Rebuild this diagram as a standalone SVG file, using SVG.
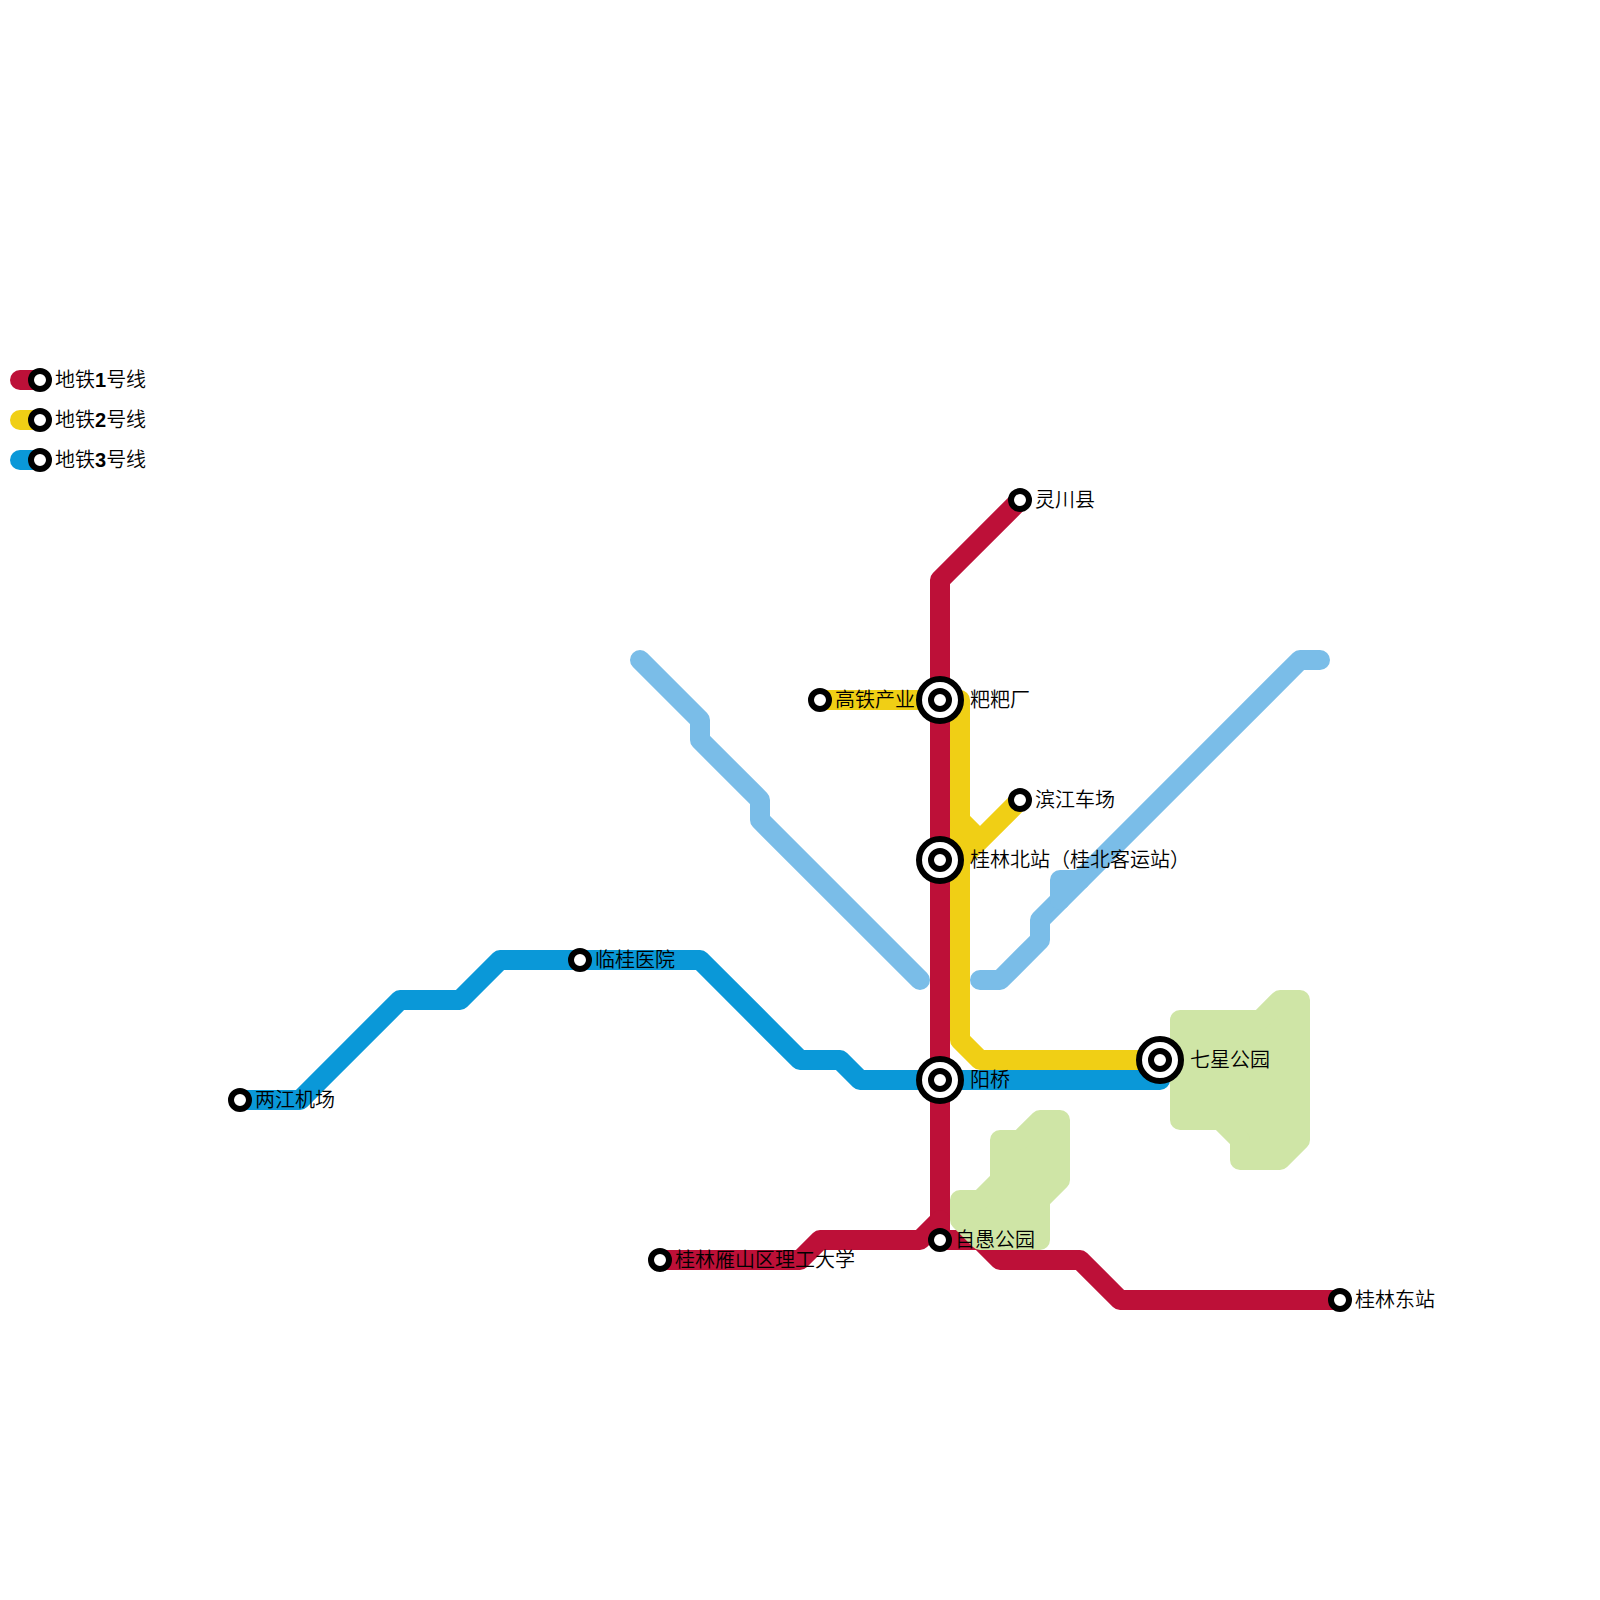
<svg xmlns="http://www.w3.org/2000/svg" width="1600" height="1600" viewBox="0 0 1600 1600">
<style>
text{font-family:"Liberation Sans","Noto Sans CJK SC",sans-serif;font-size:20px;fill:#000;font-weight:350}
.l{fill:none;stroke-width:20;stroke-linecap:round;stroke-linejoin:round}
.r{stroke:#BD1038}.y{stroke:#F0CF15}.b{stroke:#0A98D8}.c{stroke:#7ABDE8}
.p{fill:#CFE5A6;stroke:#CFE5A6;stroke-width:20;stroke-linejoin:round}
.s{fill:#fff;stroke:#000;stroke-width:6}
.d{font-weight:bold}
</style>
<g id="connectors">
<path class="l c" d="M640 660L700 720V740L760 800V820L920 980"/>
<path class="l c" d="M980 980H1000L1040 940V920L1300 660H1320"/>
<path class="l c" d="M1060 900V880H1080"/>
<path class="l b" d="M240 1100H300L400 1000H460L500 960H700L800 1060H840L860 1080H1160"/>
<path class="l y" d="M820 700H960V1040L980 1060H1160"/>
<path class="l y" d="M1020 800L960 860M960 820L980 840"/>
<path class="l r" d="M1020 500L940 580V1220L920 1240H820L800 1260H660"/>
<path class="l r" d="M940 1220V1240H980L1000 1260H1080L1120 1300H1340"/>
<path class="l r" d="M20 380H40"/>
<path class="l y" d="M20 420H40"/>
<path class="l b" d="M20 460H40"/>
</g>
<g id="parks">
<polygon id="park-ziyu" class="p" points="960,1200 980,1200 1000,1180 1000,1140 1020,1140 1040,1120 1060,1120 1060,1180 1040,1200 1040,1240 980,1240 960,1220"/>
<polygon id="park-qixing" class="p" points="1180,1020 1260,1020 1280,1000 1300,1000 1300,1140 1280,1160 1240,1160 1240,1140 1220,1120 1180,1120"/>
</g>
<g id="legend-1"><circle class="s" cx="40" cy="380" r="9"/><text x="55" y="387">地铁<tspan class="d">1</tspan>号线</text></g>
<g id="legend-2"><circle class="s" cx="40" cy="420" r="9"/><text x="55" y="427">地铁<tspan class="d">2</tspan>号线</text></g>
<g id="legend-3"><circle class="s" cx="40" cy="460" r="9"/><text x="55" y="467">地铁<tspan class="d">3</tspan>号线</text></g>
<g id="st-lingchuan"><circle class="s" cx="1020" cy="500" r="9"/><text x="1035" y="507">灵川县</text></g>
<g id="st-babachang"><circle class="s" cx="940" cy="700" r="21"/><circle class="s" cx="940" cy="700" r="9"/><text x="970" y="707">粑粑厂</text></g>
<g id="st-gaotie"><circle class="s" cx="820" cy="700" r="9"/><text x="835" y="707">高铁产业</text></g>
<g id="st-binjiang"><circle class="s" cx="1020" cy="800" r="9"/><text x="1035" y="807">滨江车场</text></g>
<g id="st-guilinbei"><circle class="s" cx="940" cy="860" r="21"/><circle class="s" cx="940" cy="860" r="9"/><text x="970" y="867">桂林北站（桂北客运站）</text></g>
<g id="st-lingui"><circle class="s" cx="580" cy="960" r="9"/><text x="595" y="967">临桂医院</text></g>
<g id="st-qixing"><circle class="s" cx="1160" cy="1060" r="21"/><circle class="s" cx="1160" cy="1060" r="9"/><text x="1190" y="1067">七星公园</text></g>
<g id="st-yangqiao"><circle class="s" cx="940" cy="1080" r="21"/><circle class="s" cx="940" cy="1080" r="9"/><text x="970" y="1087">阳桥</text></g>
<g id="st-liangjiang"><circle class="s" cx="240" cy="1100" r="9"/><text x="255" y="1107">两江机场</text></g>
<g id="st-ziyu"><circle class="s" cx="940" cy="1240" r="9"/><text x="955" y="1247">自愚公园</text></g>
<g id="st-yanshan"><circle class="s" cx="660" cy="1260" r="9"/><text x="675" y="1267">桂林雁山区理工大学</text></g>
<g id="st-guilindong"><circle class="s" cx="1340" cy="1300" r="9"/><text x="1355" y="1307">桂林东站</text></g>
</svg>
